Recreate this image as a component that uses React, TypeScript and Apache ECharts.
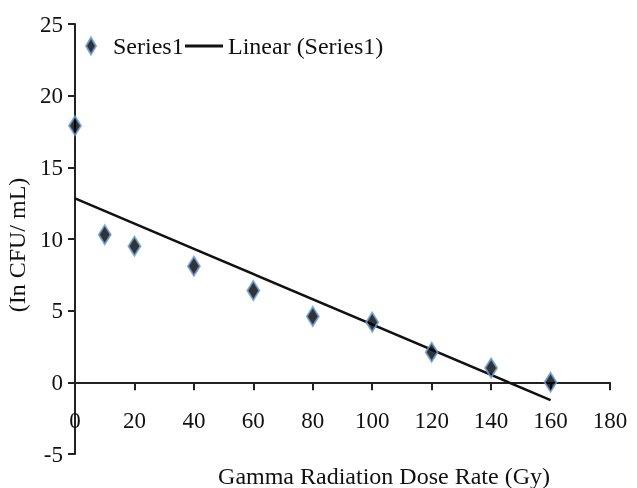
import React, { useEffect, useRef } from "react";
import * as echarts from "echarts";

const doseGy = [0, 10, 20, 40, 60, 80, 100, 120, 140, 160];
const lnCfu = [17.9, 10.3, 9.5, 8.1, 6.4, 4.6, 4.2, 2.1, 1.0, 0.0];
const xTickMax = 180;
const yMin = -5;
const yMax = 25;

function linearFit(xs: number[], ys: number[]) {
  const n = xs.length;
  const mx = xs.reduce((a, b) => a + b, 0) / n;
  const my = ys.reduce((a, b) => a + b, 0) / n;
  let sxy = 0;
  let sxx = 0;
  for (let i = 0; i < n; i++) {
    sxy += (xs[i] - mx) * (ys[i] - my);
    sxx += (xs[i] - mx) * (xs[i] - mx);
  }
  const slope = sxy / sxx;
  return { slope, intercept: my - slope * mx };
}

export default function App() {
  const ref = useRef<HTMLDivElement>(null);
  useEffect(() => {
    if (!ref.current) return;
    const chart = echarts.init(ref.current, null, { renderer: "svg" });
    const fit = linearFit(doseGy, lnCfu);
    const x0 = doseGy[0];
    const x1 = doseGy[doseGy.length - 1];
    const font = "'Liberation Serif', 'Times New Roman', serif";
    const gridTop = 24;
    const gridBottom = 34;
    const gridH = 488 - gridTop - gridBottom;
    const zeroOffset = -(gridH * (0 - yMin)) / (yMax - yMin);
    chart.setOption({
      animation: false,
      textStyle: { fontFamily: font },
      grid: {
        left: 75,
        right: 27,
        top: gridTop,
        bottom: gridBottom,
        containLabel: false,
        outerBoundsMode: "none",
      },
      legend: [
        {
          data: [{ name: "Series1" }],
          left: 80,
          top: 29,
          itemWidth: 10,
          itemHeight: 17,
          itemGap: 0,
          textStyle: { fontSize: 24, color: "#111", fontFamily: font, padding: [0, 0, 0, 12] },
        },
        {
          data: [{ name: "Linear (Series1)", icon: "rect" }],
          left: 180,
          top: 29,
          itemWidth: 38,
          itemHeight: 3,
          itemGap: 0,
          textStyle: { fontSize: 24, color: "#111", fontFamily: font },
        },
      ],
      xAxis: {
        type: "value",
        min: 0,
        max: xTickMax,
        interval: 20,
        offset: zeroOffset,
        axisLine: { onZero: false, lineStyle: { color: "#222", width: 2 } },
        axisTick: { show: true, length: 8, inside: false, lineStyle: { color: "#222", width: 2 } },
        axisLabel: { fontSize: 23, color: "#111", margin: 27, fontFamily: font },
        splitLine: { show: false },
      },
      yAxis: {
        type: "value",
        min: yMin,
        max: yMax,
        interval: 5,
        name: "(In CFU/ mL)",
        nameLocation: "middle",
        nameGap: 40,
        nameTextStyle: { fontSize: 24, color: "#111", fontFamily: font, padding: [0, 12, 0, 0] },
        axisLine: { show: true, onZero: false, lineStyle: { color: "#222", width: 2 } },
        axisTick: { show: true, length: 7, lineStyle: { color: "#222", width: 2 } },
        axisLabel: { fontSize: 23, color: "#111", margin: 12, fontFamily: font },
        splitLine: { show: false },
      },
      graphic: [
        {
          type: "text",
          x: 384,
          y: 476,
          style: {
            text: "Gamma Radiation Dose Rate (Gy)",
            fontSize: 24,
            fill: "#111",
            fontFamily: font,
            textAlign: "center",
            textVerticalAlign: "middle",
          },
        },
      ],
      series: [
        {
          name: "Linear (Series1)",
          type: "line",
          data: [
            [x0, fit.intercept + fit.slope * x0],
            [x1, fit.intercept + fit.slope * x1],
          ],
          symbol: "none",
          lineStyle: { color: "#111", width: 2.5 },
          itemStyle: { color: "#111" },
          z: 2,
        },
        {
          name: "Series1",
          type: "scatter",
          data: doseGy.map((x, i) => [x, lnCfu[i]]),
          symbol: "diamond",
          symbolSize: [12, 19],
          itemStyle: { color: "#000", borderColor: "#6a9fd8", borderWidth: 2 },
          z: 3,
        },
      ],
    });
    return () => chart.dispose();
  }, []);
  return (
    <div
      ref={ref}
      style={{ position: "fixed", left: 0, top: 0, width: 637, height: 488 }}
    />
  );
}
